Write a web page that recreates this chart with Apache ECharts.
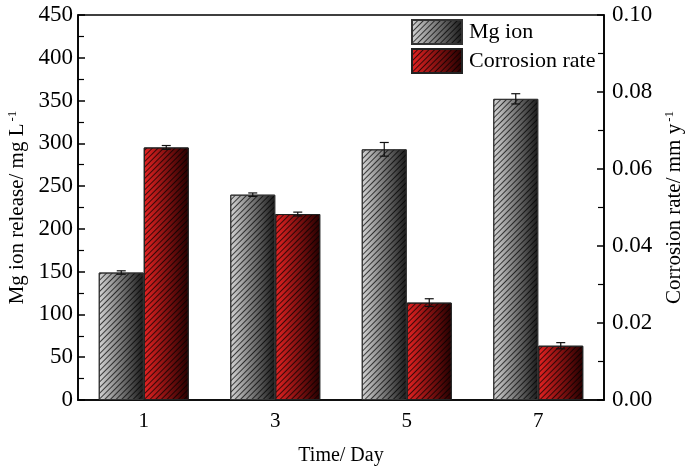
<!DOCTYPE html>
<html>
<head>
<meta charset="utf-8">
<script src="https://cdn.jsdelivr.net/npm/echarts@6/dist/echarts.min.js"></script>
<style>
  html, body { margin: 0; padding: 0; background: #fff; }
  #chart { width: 688px; height: 473px; }
</style>
</head>
<body>
<div id="chart"></div>
<script>
// 数据
const days = [1, 3, 5, 7]
const mgIon = [149, 240, 293, 352]
const mgIonErr = [2, 2, 8, 6]
const corrosion = [0.0656, 0.0483, 0.0253, 0.0141]
const corrosionErr = [0.0005, 0.0005, 0.001, 0.0008]

const FONT = 'Liberation Serif'
const BAR_W = 45

// 斜线填充
const hatch = {
  symbol: 'rect',
  symbolSize: 1,
  dashArrayX: [1, 0],
  dashArrayY: [1, 2.6],
  rotation: -Math.PI / 4,
  color: 'rgba(0,0,0,0.7)'
}

const grayFill = new echarts.graphic.LinearGradient(0, 0, 1, 0, [
  { offset: 0, color: '#d4d4d4' },
  { offset: 1, color: '#1a1a1a' }
])
const redFill = new echarts.graphic.LinearGradient(0, 0, 1, 0, [
  { offset: 0, color: '#e42222' },
  { offset: 1, color: '#250000' }
])

// 误差线
const errorBar = (vals, errs, shift, yIndex) => ({
  type: 'custom',
  yAxisIndex: yIndex,
  silent: true,
  z: 5,
  data: days.map((d, i) => [d, vals[i] - errs[i], vals[i] + errs[i]]),
  renderItem: (params, api) => {
    const lo = api.coord([api.value(0), api.value(1)])
    const hi = api.coord([api.value(0), api.value(2)])
    const x = lo[0] + shift
    const style = { stroke: '#111', lineWidth: 1.2 }
    return {
      type: 'group',
      children: [
        { type: 'line', shape: { x1: x, y1: lo[1], x2: x, y2: hi[1] }, style },
        { type: 'line', shape: { x1: x - 4.5, y1: lo[1], x2: x + 4.5, y2: lo[1] }, style },
        { type: 'line', shape: { x1: x - 4.5, y1: hi[1], x2: x + 4.5, y2: hi[1] }, style }
      ]
    }
  }
})

const chart = echarts.init(document.getElementById('chart'))

const option = {
  backgroundColor: '#fff',
  animation: false,
  grid: {
    left: 78,
    right: 84,
    top: 15,
    bottom: 73,
    outerBoundsMode: 'none',
    show: true,
    borderColor: '#000',
    borderWidth: 1.6,
    backgroundColor: 'transparent'
  },
  legend: {
    orient: 'vertical',
    left: 411,
    top: 19,
    padding: 0,
    itemWidth: 50,
    itemHeight: 24,
    itemGap: 3,
    icon: 'rect',
    textStyle: { fontFamily: FONT, fontSize: 22, color: '#000', padding: [0, 0, 0, 2] },
    data: ['Mg ion', 'Corrosion rate']
  },
  xAxis: {
    type: 'value',
    min: 0,
    max: 8,
    interval: 1,
    name: 'Time/ Day',
    nameLocation: 'middle',
    nameGap: 46,
    nameTextStyle: { fontFamily: FONT, fontSize: 20, color: '#000' },
    axisLine: { lineStyle: { color: '#000', width: 1.6 } },
    axisTick: { show: false },
    splitLine: { show: false },
    axisLabel: {
      fontFamily: FONT,
      fontSize: 21,
      color: '#000',
      margin: 11,
      formatter: v => (days.includes(v) ? String(v) : '')
    }
  },
  yAxis: [
    {
      type: 'value',
      min: 0,
      max: 450,
      interval: 50,
      name: 'Mg ion release/ mg L{sup|-1}',
      nameLocation: 'middle',
      nameRotate: 90,
      nameGap: 47,
      nameTextStyle: {
        fontFamily: FONT,
        fontSize: 21,
        color: '#000',
        rich: { sup: { fontFamily: FONT, fontSize: 13, verticalAlign: 'top', padding: [0, 0, 9, 2] } }
      },
      axisLine: { show: true, lineStyle: { color: '#000', width: 1.6 } },
      axisTick: { inside: true, length: 7, lineStyle: { color: '#000', width: 1.5 } },
      minorTick: { show: true, splitNumber: 2, length: 6, lineStyle: { color: '#000', width: 1.2 } },
      splitLine: { show: false },
      axisLabel: { fontFamily: FONT, fontSize: 23, color: '#000', margin: 5 }
    },
    {
      type: 'value',
      min: 0,
      max: 0.1,
      interval: 0.02,
      position: 'right',
      name: 'Corrosion rate/ mm y{sup|-1}',
      nameLocation: 'middle',
      nameRotate: 90,
      nameGap: 54,
      nameTextStyle: {
        fontFamily: FONT,
        fontSize: 21,
        color: '#000',
        rich: { sup: { fontFamily: FONT, fontSize: 13, verticalAlign: 'top', padding: [0, 0, 9, 2] } }
      },
      axisLine: { show: true, lineStyle: { color: '#000', width: 1.6 } },
      axisTick: { inside: true, length: 7, lineStyle: { color: '#000', width: 1.5 } },
      minorTick: { show: true, splitNumber: 2, length: 6, lineStyle: { color: '#000', width: 1.2 } },
      splitLine: { show: false },
      axisLabel: { fontFamily: FONT, fontSize: 23, color: '#000', margin: 8, formatter: v => v.toFixed(2) }
    }
  ],
  series: [
    {
      name: 'Mg ion',
      type: 'bar',
      yAxisIndex: 0,
      barWidth: BAR_W,
      barGap: '0%',
      data: days.map((d, i) => [d, mgIon[i]]),
      itemStyle: { color: grayFill, borderColor: '#333', borderWidth: 1, decal: hatch }
    },
    {
      name: 'Corrosion rate',
      type: 'bar',
      yAxisIndex: 1,
      barWidth: BAR_W,
      barGap: '0%',
      data: days.map((d, i) => [d, corrosion[i]]),
      itemStyle: { color: redFill, borderColor: '#222', borderWidth: 1, decal: hatch }
    },
    errorBar(mgIon, mgIonErr, -BAR_W / 2, 0),
    errorBar(corrosion, corrosionErr, BAR_W / 2, 1)
  ]
}

chart.setOption(option)
window.addEventListener('resize', () => chart.resize())
</script>
</body>
</html>
